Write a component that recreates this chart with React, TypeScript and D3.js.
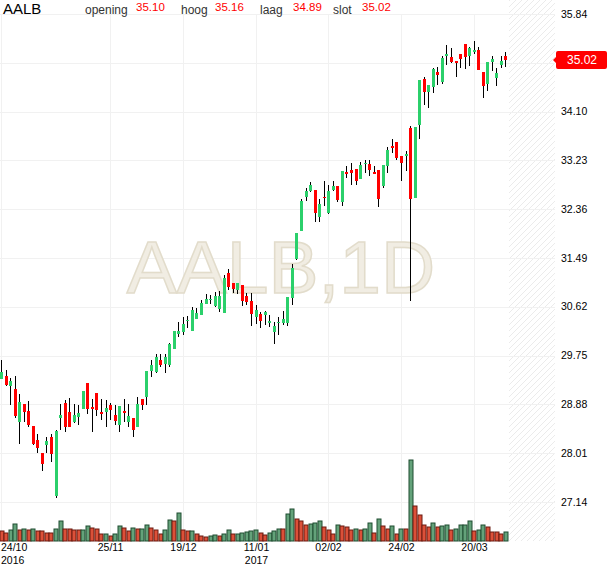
import * as d3 from 'd3';
import React from 'react';

// AALB daily candles, 24/10/2016 .. 29/03/2017
const opens = [
  29.33, 29.39, 29.20, 29.16, 28.57, 28.89, 28.76, 28.49, 28.25, 28.02,
  28.14, 28.29, 27.25, 28.64, 28.91, 28.75, 28.57, 28.66, 28.80, 29.27,
  28.84, 29.09, 28.75, 28.73, 28.87, 28.69, 28.51, 28.76, 28.57, 28.64,
  28.48, 28.97, 29.00, 29.47, 29.47, 29.67, 29.60, 29.58, 29.87, 30.12,
  30.18, 30.37, 30.18, 30.40, 30.47, 30.67, 30.74, 30.64, 30.58, 30.51,
  31.23, 31.04, 30.92, 31.01, 30.82, 30.72, 30.43, 30.49, 30.47, 30.34,
  30.18, 30.33, 30.33, 30.33, 30.77, 31.47, 31.98, 32.58, 32.68, 32.70,
  32.21, 32.58, 32.30, 32.69, 32.77, 32.49, 33.03, 33.06, 33.07, 32.90,
  33.16, 33.16, 33.03, 33.06, 32.78, 33.14, 33.49, 33.55, 33.31, 33.30,
  33.81, 32.57, 33.85, 34.69, 34.44, 34.54, 34.81, 34.62, 35.10, 35.08,
  35.01, 35.13, 35.31, 35.08, 35.16, 35.20, 34.81, 34.59, 34.99, 34.70,
  34.92, 35.10,
];
const highs = [
  29.68, 29.50, 29.35, 29.39, 29.06, 28.89, 28.94, 28.49, 28.35, 28.02,
  28.29, 28.36, 28.42, 28.88, 28.95, 28.99, 28.88, 28.87, 29.12, 29.27,
  28.97, 29.09, 28.97, 28.96, 28.90, 28.87, 28.85, 28.97, 28.89, 28.64,
  29.02, 28.97, 29.47, 29.67, 29.77, 29.77, 29.77, 29.97, 30.19, 30.35,
  30.44, 30.45, 30.62, 30.60, 30.74, 30.84, 30.83, 30.88, 30.91, 31.19,
  31.29, 31.04, 31.04, 31.01, 30.86, 30.86, 30.66, 30.53, 30.55, 30.48,
  30.35, 30.44, 30.55, 30.80, 31.38, 31.94, 32.54, 32.73, 32.85, 32.70,
  32.54, 32.86, 32.79, 32.86, 32.77, 33.04, 33.13, 33.19, 33.07, 33.21,
  33.24, 33.24, 33.13, 33.06, 33.15, 33.47, 33.62, 33.55, 33.31, 33.39,
  33.85, 33.83, 34.66, 34.72, 34.57, 34.87, 34.90, 35.10, 35.28, 35.23,
  35.01, 35.13, 35.31, 35.26, 35.35, 35.26, 34.81, 34.98, 35.10, 34.87,
  35.10, 35.16,
];
const lows = [
  29.33, 29.20, 28.87, 28.64, 28.17, 28.57, 28.48, 28.16, 28.02, 27.70,
  28.02, 27.86, 27.22, 28.42, 28.39, 28.47, 28.54, 28.51, 28.80, 28.71,
  28.38, 28.68, 28.60, 28.48, 28.61, 28.51, 28.39, 28.57, 28.48, 28.30,
  28.48, 28.78, 28.87, 29.36, 29.44, 29.54, 29.44, 29.54, 29.87, 30.09,
  30.12, 30.25, 30.18, 30.40, 30.47, 30.67, 30.67, 30.62, 30.53, 30.51,
  30.92, 30.86, 30.84, 30.63, 30.65, 30.28, 30.32, 30.25, 30.30, 30.26,
  29.95, 30.12, 30.30, 30.28, 30.65, 31.45, 31.98, 32.51, 32.67, 32.14,
  32.14, 32.42, 32.27, 32.69, 32.49, 32.42, 32.91, 32.79, 32.80, 32.90,
  33.01, 32.95, 33.00, 32.40, 32.74, 33.01, 33.37, 33.24, 32.87, 33.04,
  30.73, 32.57, 33.61, 34.22, 34.16, 34.44, 34.57, 34.59, 34.93, 34.97,
  34.72, 34.88, 34.86, 34.92, 35.13, 34.85, 34.34, 34.47, 34.82, 34.56,
  34.88, 34.89,
];
const closes = [
  29.45, 29.23, 29.29, 28.68, 28.93, 28.75, 28.51, 28.17, 28.11, 27.83,
  28.22, 27.98, 28.41, 28.69, 28.49, 28.48, 28.69, 28.73, 29.12, 28.80,
  28.80, 28.78, 28.71, 28.81, 28.78, 28.58, 28.85, 28.73, 28.67, 28.43,
  28.89, 28.87, 29.47, 29.58, 29.73, 29.58, 29.72, 29.96, 30.19, 30.18,
  30.32, 30.38, 30.56, 30.51, 30.69, 30.76, 30.76, 30.81, 30.82, 31.13,
  30.98, 30.94, 31.04, 30.72, 30.72, 30.49, 30.56, 30.36, 30.53, 30.37,
  30.28, 30.35, 30.41, 30.80, 31.31, 31.93, 32.51, 32.68, 32.79, 32.29,
  32.45, 32.57, 32.69, 32.77, 32.52, 33.04, 33.00, 33.01, 32.85, 33.15,
  33.18, 33.05, 33.00, 32.54, 33.15, 33.42, 33.46, 33.26, 33.19, 33.34,
  32.54, 33.83, 34.66, 34.46, 34.57, 34.86, 34.75, 35.05, 35.13, 34.99,
  34.98, 35.04, 35.08, 35.23, 35.20, 34.85, 34.56, 34.98, 35.04, 34.79,
  35.00, 35.02,
];
// volume in thousands of shares
const volumes = [
  485, 415, 535, 865, 535, 585, 535, 585, 485, 485,
  415, 385, 615, 985, 615, 615, 565, 565, 565, 765,
  665, 615, 365, 365, 265, 365, 765, 665, 485, 665,
  585, 615, 815, 665, 565, 365, 565, 1065, 985, 1415,
  565, 485, 515, 365, 265, 215, 265, 315, 265, 365,
  565, 365, 365, 415, 465, 515, 565, 415, 315, 415,
  515, 615, 615, 1365, 1615, 1115, 1015, 815, 865, 915,
  1015, 715, 565, 365, 815, 735, 685, 565, 615, 565,
  615, 915, 415, 1115, 735, 615, 735, 365, 615, 615,
  4065, 1765, 1315, 815, 685, 915, 685, 735, 785, 565,
  615, 785, 815, 1015, 515, 565, 815, 685, 465, 465,
  365, 465,
];
// 1 = green volume bar, 0 = red
const volumeUp = [
  0, 0, 1, 1, 0, 1, 0, 1, 0, 0,
  0, 0, 1, 1, 0, 0, 0, 0, 1, 1,
  0, 0, 0, 1, 0, 1, 1, 0, 0, 1,
  0, 1, 1, 0, 0, 0, 1, 1, 0, 1,
  0, 0, 1, 0, 0, 0, 1, 1, 0, 1,
  1, 0, 1, 1, 1, 1, 1, 0, 0, 1,
  1, 1, 0, 1, 1, 0, 0, 0, 1, 1,
  1, 0, 0, 0, 1, 0, 0, 0, 1, 0,
  1, 1, 0, 1, 0, 0, 1, 0, 1, 0,
  1, 0, 0, 0, 0, 1, 0, 1, 1, 0,
  1, 1, 1, 1, 0, 1, 1, 0, 0, 0,
  0, 1,
];

const dateTicks = [0, 24, 40, 56, 72, 88, 104];
const dateLabels = ['24/10', '25/11', '19/12', '11/01', '02/02', '24/02', '20/03'];
const yearTicks = [0, 56];
const yearLabels = ['2016', '2017'];
const priceTicks = [35.84, 34.97, 34.10, 33.23, 32.36, 31.49, 30.62, 29.75, 28.88, 28.01, 27.14];

const symbol = 'AALB';
const interval = '1D';

const FONT = '"Liberation Sans", Arial, Helvetica, sans-serif';
const GREEN = '#2bd06b';
const RED = '#ff0000';

export default function App() {
  const W = 610;
  const H = 568;
  const step = 4.545;
  const slots = 122; // bars + empty space on the right
  const plotRight = 555;
  const baseY = 541;
  const N = closes.length;

  const x = d3.scaleLinear().domain([0, slots]).range([1.5, 1.5 + slots * step]);
  const y = d3.scaleLinear().domain([27.14, 35.84]).range([502, 14]);
  const vy = d3.scaleLinear().domain([0, 5000]).range([baseY, baseY - 100]);

  const cx = (i: number) => Math.floor(x(i)) + 0.5;
  const last = N - 1;
  const tagY = Math.round(y(closes[last]));
  const hatchStart = Math.round(x(last)) + 3;

  const header = [
    { label: 'opening', value: opens[last], lx: 85, vx: 136 },
    { label: 'hoog', value: highs[last], lx: 181, vx: 215 },
    { label: 'laag', value: lows[last], lx: 260, vx: 293 },
    { label: 'slot', value: closes[last], lx: 333, vx: 362 },
  ];

  const tagPath = `M553,${tagY} L556,${tagY - 3} L556,${tagY - 7} Q556,${tagY - 9} 558,${tagY - 9}` +
    ` L605,${tagY - 9} Q607,${tagY - 9} 607,${tagY - 7} L607,${tagY + 7} Q607,${tagY + 9} 605,${tagY + 9}` +
    ` L558,${tagY + 9} Q556,${tagY + 9} 556,${tagY + 7} L556,${tagY + 3} Z`;

  return (
    <div>
      <style>{`body { margin: 0; }`}</style>
      <svg width={W} height={H} style={{ display: 'block', fontFamily: FONT }}>
        <defs>
          <pattern id="hatch" patternUnits="userSpaceOnUse" width={6} height={6}>
            <path d="M-1,1 L1,-1 M0,6 L6,0 M5,7 L7,5" stroke="#ebebeb" strokeWidth={1} />
          </pattern>
        </defs>
        <rect width={W} height={H} fill="#fff" />
        <rect x={hatchStart} y={0} width={plotRight - hatchStart} height={baseY} fill="url(#hatch)" />

        {/* grid */}
        {priceTicks.map((t) => (
          <line key={'h' + t} x1={0} x2={plotRight} y1={Math.round(y(t)) + 0.5} y2={Math.round(y(t)) + 0.5}
            stroke="#f1f1f1" />
        ))}
        {dateTicks.map((d) => (
          <line key={'v' + d} x1={cx(d)} x2={cx(d)} y1={14} y2={baseY} stroke="#f1f1f1" />
        ))}

        {/* watermark */}
        <text x={281} y={293} textAnchor="middle" fontSize={75} fill="#f1ede3" stroke="#e2dccb"
          strokeWidth={1.5}>{`${symbol},${interval}`}</text>

        {/* volume */}
        {volumes.map((v, i) => {
          const top = Math.round(vy(v));
          return (
            <rect key={'vol' + i} x={Math.round(x(i)) - 2} y={top} width={4} height={baseY - top}
              fill={volumeUp[i] ? '#64a27a' : '#dc5039'}
              stroke={volumeUp[i] ? '#1e4d30' : '#6a1a10'} strokeWidth={1} />
          );
        })}

        {/* candles */}
        {closes.map((c, i) => {
          const o = opens[i];
          const up = c >= o;
          const top = y(Math.max(o, c));
          const bot = y(Math.min(o, c));
          return (
            <g key={'c' + i}>
              <line x1={cx(i)} x2={cx(i)} y1={Math.round(y(highs[i]))} y2={Math.round(y(lows[i]))}
                stroke="#000" strokeWidth={1} />
              <rect x={cx(i) - 1.5} y={Math.round(top)} width={3} height={Math.max(1, Math.round(bot - top))}
                fill={up ? GREEN : RED} />
            </g>
          );
        })}

        {/* price axis */}
        {priceTicks.map((t) => (
          Math.abs(y(t) - tagY) < 12 ? null : (
            <text key={'pl' + t} x={561} y={y(t)} dy="0.35em" fontSize={10.5} fill="#000">{t.toFixed(2)}</text>
          )
        ))}
        <path d={tagPath} fill={RED} />
        <text x={582} y={tagY} dy="0.36em" textAnchor="middle" fontSize={12} fill="#fff">
          {closes[last].toFixed(2)}
        </text>

        {/* date axis */}
        {dateTicks.map((d, k) => (
          <text key={'dl' + d} x={k === 0 ? 1 : cx(d)} y={551} textAnchor={k === 0 ? 'start' : 'middle'}
            fontSize={10.5} fill="#000">{dateLabels[k]}</text>
        ))}
        {yearTicks.map((d, k) => (
          <text key={'yl' + d} x={k === 0 ? 1 : cx(d)} y={563.5} textAnchor={k === 0 ? 'start' : 'middle'}
            fontSize={10.5} fill="#000">{yearLabels[k]}</text>
        ))}

        {/* header */}
        <text x={3} y={13.6} fontSize={15} fill="#000">{symbol}</text>
        {header.map((h) => (
          <g key={h.label}>
            <text x={h.lx} y={13.5} fontSize={12} fill="#333">{h.label}</text>
            <text x={h.vx} y={11} fontSize={11.5} fill={RED}>{h.value.toFixed(2)}</text>
          </g>
        ))}
      </svg>
    </div>
  );
}
